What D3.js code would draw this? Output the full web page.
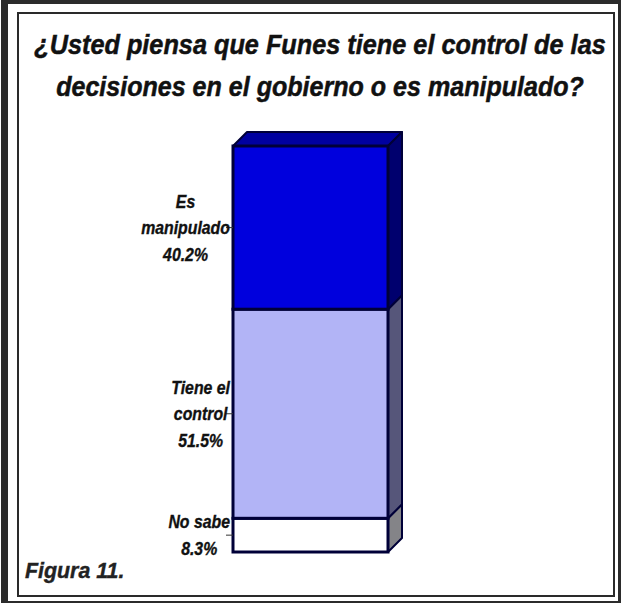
<!DOCTYPE html>
<html>
<head>
<meta charset="utf-8">
<script src="https://cdn.jsdelivr.net/npm/d3@7"></script>
<style>
  html, body { margin: 0; padding: 0; background: #ffffff; }
  svg { display: block; }
  text { font-family: "Liberation Sans", Arial, sans-serif; font-weight: 700; font-style: italic; }
</style>
</head>
<body>
<svg id="chart" width="621" height="604"></svg>
<script>
// ---- data ----
const titleLines = ["¿Usted piensa que Funes tiene el control de las", "decisiones en el gobierno o es manipulado?"];
const figureLabel = "Figura 11.";
const categories = ["No sabe", "Tiene el control", "Es manipulado"];
const values = [8.3, 51.5, 40.2];
const labelLines = [["No sabe", "8.3%"], ["Tiene el", "control", "51.5%"], ["Es", "manipulado", "40.2%"]];
const frontColors = ["#ffffff", "#b2b4f6", "#0000dd"];
const sideColors = ["#848488", "#56567a", "#00006e"];
const topColors = ["#d0d0d0", "#8c8ec8", "#0000a0"];

const svg = d3.select("#chart");
const W = 621, H = 604;

// frame
svg.append("rect").attr("x", 0).attr("y", 0).attr("width", W).attr("height", H).attr("fill", "#ffffff");
svg.append("path")
  .attr("d", "M1,0H621V603H1Z M8,4V601H618V4Z")
  .attr("fill", "#2b2b2b").attr("fill-rule", "evenodd");
svg.append("rect").attr("x", 18).attr("y", 13).attr("width", 596).attr("height", 583)
  .attr("fill", "none").attr("stroke", "#2a2a2a").attr("stroke-width", 2);

// title (condensed by horizontal scaling to fit the reference widths)
const titleSpecs = [{y: 54, w: 572}, {y: 96, w: 528}];
titleLines.forEach((t, i) => {
  const tx = svg.append("text")
    .attr("x", 0).attr("y", 0)
    .attr("text-anchor", "middle")
    .attr("font-size", 28)
    .attr("fill", "#111")
    .attr("stroke", "#111").attr("stroke-width", 0.5)
    .text(t);
  const nat = tx.node().getComputedTextLength();
  tx.attr("transform", `translate(320,${titleSpecs[i].y}) scale(${titleSpecs[i].w / nat},1)`);
});

// scales
const y = d3.scaleLinear().domain([0, 100]).range([552, 146]);
const x = d3.scaleBand().domain(["total"]).range([233, 388]).padding(0);
const depth = 14;
const x0 = x("total"), x1 = x0 + x.bandwidth();

// stacked data
let cum = 0;
const segs = values.map((v, i) => {
  const s = {cat: categories[i], v, lo: cum, hi: cum + v, i};
  cum += v;
  return s;
});

const outline = "#000038";
const g = svg.append("g");
segs.forEach(s => {
  const yb = y(s.lo), yt = y(s.hi);
  g.append("path")
    .attr("d", `M${x0},${yt}L${x0 + depth},${yt - depth}L${x1 + depth},${yt - depth}L${x1},${yt}Z`)
    .attr("fill", topColors[s.i]).attr("stroke", outline).attr("stroke-width", 2).attr("stroke-linejoin", "round");
  g.append("path")
    .attr("d", `M${x1},${yb}L${x1 + depth},${yb - depth}L${x1 + depth},${yt - depth}L${x1},${yt}Z`)
    .attr("fill", sideColors[s.i]).attr("stroke", outline).attr("stroke-width", 2).attr("stroke-linejoin", "round");
  g.append("rect")
    .attr("x", x0).attr("y", yt).attr("width", x1 - x0).attr("height", yb - yt)
    .attr("fill", frontColors[s.i]).attr("stroke", outline).attr("stroke-width", 3);
});

// labels
const lineGap = 26.5;
const squeeze = 0.88;
segs.forEach(s => {
  const lines = labelLines[s.i];
  const mid = (y(s.lo) + y(s.hi)) / 2;
  svg.append("line")
    .attr("x1", x0 - 7).attr("x2", x0)
    .attr("y1", mid).attr("y2", mid)
    .attr("stroke", "#333").attr("stroke-width", 1);
  const texts = lines.map((ln, k) => svg.append("text")
    .attr("x", 0).attr("y", 0)
    .attr("text-anchor", "middle")
    .attr("font-size", 18)
    .attr("fill", "#111")
    .attr("stroke", "#111").attr("stroke-width", 0.35)
    .text(ln));
  const maxW = d3.max(texts, t => t.node().getComputedTextLength()) * squeeze;
  const cx = x0 - 3 - maxW / 2;
  texts.forEach((t, k) => {
    const yy = mid - (lines.length - 1) / 2 * lineGap + 6.5 + k * lineGap;
    t.attr("transform", `translate(${cx},${yy}) scale(${squeeze},1)`);
  });
});

// figure label
svg.append("text")
  .attr("x", 25).attr("y", 578)
  .attr("font-size", 23)
  .attr("fill", "#222")
  .attr("stroke", "#222").attr("stroke-width", 0.4)
  .attr("transform", "translate(25,0) scale(0.93,1) translate(-25,0)")
  .text(figureLabel);
</script>
</body>
</html>
